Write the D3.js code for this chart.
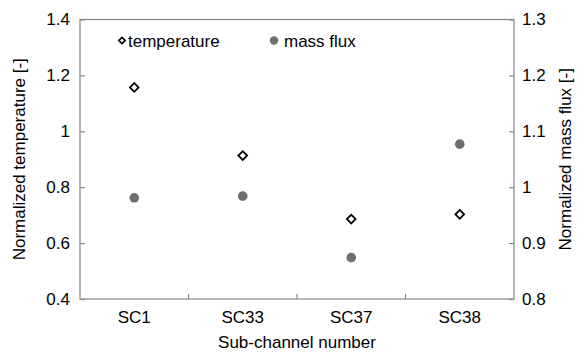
<!DOCTYPE html>
<html>
<head>
<meta charset="utf-8">
<script src="https://cdn.jsdelivr.net/npm/d3@7"></script>
<style>
  body { margin: 0; background: #fff; }
  svg text { font-family: "Liberation Sans", Arial, sans-serif; fill: #000; }
</style>
</head>
<body>
<svg id="chart" width="577" height="354"></svg>
<script>
var categories = ['SC1', 'SC33', 'SC37', 'SC38'];
var temperature = [1.157, 0.913, 0.686, 0.703];
var massFlux = [0.981, 0.984, 0.874, 1.077];
var leftTicks = [0.4, 0.6, 0.8, 1, 1.2, 1.4];
var rightTicks = [0.8, 0.9, 1, 1.1, 1.2, 1.3];

var svg = d3.select('#chart'),
    plotLeft = 80,
    plotRight = 514,
    plotTop = 19.5,
    plotBottom = 299,
    axisColor = '#868686',
    fontSize = 17;

var x = d3.scaleBand().domain(categories).range([plotLeft, plotRight]);
var yT = d3.scaleLinear().domain([0.4, 1.4]).range([plotBottom, plotTop]);
var yM = d3.scaleLinear().domain([0.8, 1.3]).range([plotBottom, plotTop]);

// frame
svg.append('rect')
  .attr('x', plotLeft).attr('y', plotTop)
  .attr('width', plotRight - plotLeft).attr('height', plotBottom - plotTop)
  .attr('fill', 'none').attr('stroke', axisColor).attr('stroke-width', 1.2);

// left axis
var gl = svg.append('g').attr('transform', 'translate(' + plotLeft + ',0)')
  .call(d3.axisLeft(yT).tickValues(leftTicks).tickSizeInner(-5).tickSizeOuter(0)
    .tickPadding(10).tickFormat(d3.format('')));
gl.select('.domain').remove();

// right axis
var gr = svg.append('g').attr('transform', 'translate(' + plotRight + ',0)')
  .call(d3.axisRight(yM).tickValues(rightTicks).tickSizeInner(-5).tickSizeOuter(0)
    .tickPadding(8).tickFormat(d3.format('')));
gr.select('.domain').remove();

// bottom axis: labels at centres, ticks at category boundaries
var gb = svg.append('g').attr('transform', 'translate(0,' + plotBottom + ')')
  .call(d3.axisBottom(x).tickSize(0).tickPadding(12));
gb.select('.domain').remove();
svg.append('g').selectAll('line')
  .data(categories.slice(1))
  .join('line')
  .attr('x1', function (d) { return x(d); })
  .attr('x2', function (d) { return x(d); })
  .attr('y1', plotBottom).attr('y2', plotBottom - 5)
  .attr('stroke', axisColor).attr('stroke-width', 1.2);

svg.selectAll('.tick line').attr('stroke', axisColor).attr('stroke-width', 1.2);
svg.selectAll('.tick text')
  .attr('font-size', fontSize)
  .style('font-family', '"Liberation Sans", Arial, sans-serif')
  .attr('fill', '#000');

// axis titles
svg.append('text')
  .attr('transform', 'translate(25,' + (plotTop + plotBottom) / 2 + ') rotate(-90)')
  .attr('text-anchor', 'middle').attr('font-size', fontSize)
  .text('Normalized temperature [-]');
svg.append('text')
  .attr('transform', 'translate(571,' + (plotTop + plotBottom) / 2 + ') rotate(-90)')
  .attr('text-anchor', 'middle').attr('font-size', fontSize)
  .text('Normalized mass flux [-]');
svg.append('text')
  .attr('x', (plotLeft + plotRight) / 2).attr('y', 348)
  .attr('text-anchor', 'middle').attr('font-size', fontSize)
  .text('Sub-channel number');

var diamond = d3.symbol().type(d3.symbolSquare).size(38);
var smallDiamond = d3.symbol().type(d3.symbolSquare).size(20);
var cx = function (d, i) { return x(categories[i]) + x.bandwidth() / 2; };

// mass flux points
svg.append('g').selectAll('circle')
  .data(massFlux)
  .join('circle')
  .attr('cx', cx)
  .attr('cy', function (d) { return yM(d); })
  .attr('r', 4.8)
  .attr('fill', '#6e6e6e');

// temperature points
svg.append('g').selectAll('path')
  .data(temperature)
  .join('path')
  .attr('d', diamond)
  .attr('transform', function (d, i) {
    return 'translate(' + cx(d, i) + ',' + yT(d) + ') rotate(45)';
  })
  .attr('fill', '#fff')
  .attr('stroke', '#000')
  .attr('stroke-width', 1.8);

// legend
var lg = svg.append('g');
lg.append('path')
  .attr('d', smallDiamond)
  .attr('transform', 'translate(122,40.5) rotate(45)')
  .attr('fill', '#fff').attr('stroke', '#000').attr('stroke-width', 1.7);
lg.append('text')
  .attr('x', 128).attr('y', 46.5).attr('font-size', fontSize)
  .text('temperature');
lg.append('circle')
  .attr('cx', 274).attr('cy', 40.5).attr('r', 4.2).attr('fill', '#6e6e6e');
lg.append('text')
  .attr('x', 284).attr('y', 46.5).attr('font-size', fontSize)
  .text('mass flux');
</script>
</body>
</html>
